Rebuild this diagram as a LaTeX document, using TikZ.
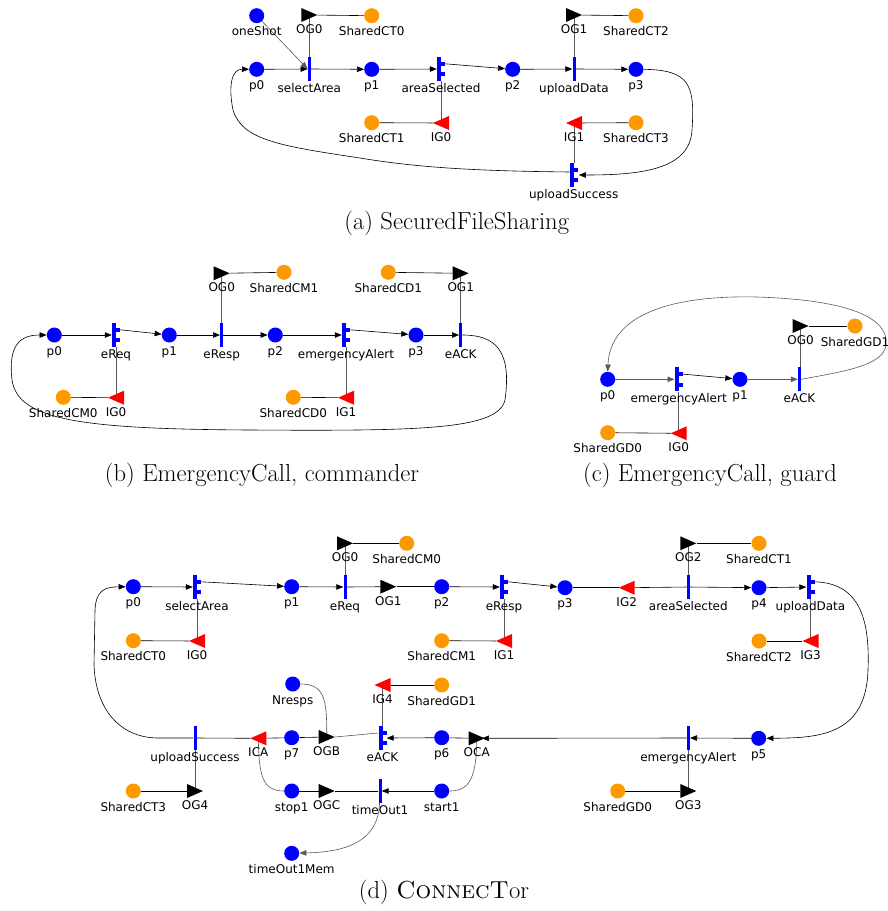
\documentclass[tikz,border=0pt]{standalone}
\usepackage{fontspec}
\newfontfamily\labfont{DejaVu Sans}
\usetikzlibrary{arrows.meta,shapes.geometric,calc,backgrounds}
\definecolor{pblue}{RGB}{0,0,255}
\definecolor{porange}{RGB}{255,153,0}
\definecolor{pred}{RGB}{255,0,0}
\definecolor{ggray}{RGB}{90,90,90}
\tikzset{
  pl/.style={circle, fill=pblue, minimum size=15pt, inner sep=0pt},
  sh/.style={pl, fill=porange},
  tr/.style={rectangle, fill=pblue, minimum width=3pt, minimum height=24pt, inner sep=0pt},
  sptr/.style={tr, minimum width=4pt},
  og/.style={rectangle, minimum width=16pt, minimum height=14pt, inner sep=0pt,
    path picture={\fill[black] (path picture bounding box.north west) -- (path picture bounding box.east) -- (path picture bounding box.south west) -- cycle;}},
  ig/.style={rectangle, minimum width=16pt, minimum height=14pt, inner sep=0pt,
    path picture={\fill[pred] (path picture bounding box.north east) -- (path picture bounding box.west) -- (path picture bounding box.south east) -- cycle;}},
  lab/.style={font=\labfont\fontsize{12}{14}\selectfont, anchor=base, inner sep=0pt},
  conn/.style={draw=black, line width=0.6pt},
  arr/.style={conn, -{Triangle[length=7pt,width=5.5pt]}},
  gconn/.style={draw=ggray, line width=0.6pt},
  garr/.style={gconn, -{Triangle[length=7pt,width=5.5pt]}},
  captext/.style={font=\fontsize{24.6}{29}\selectfont, anchor=base, inner sep=0pt},
}
\newcommand\mkPL[4]{\node[pl] (#1) at (#2,#3) {}; \node[lab] (#1-l) at ([yshift=-20pt]#1.center) {#4};}
\newcommand\mkSH[4]{\node[sh] (#1) at (#2,#3) {}; \node[lab] (#1-l) at ([yshift=-20pt]#1.center) {#4};}
\newcommand\mkTR[4]{\node[tr] (#1) at (#2,#3) {}; \node[lab] (#1-l) at ([yshift=-23.5pt]#1.center) {#4};}
\newcommand\mkSP[4]{\node[sptr] (#1) at (#2,#3) {}; \fill[pblue] ([yshift=-5pt]#1.north east) rectangle ++(4,4); \fill[pblue] ([yshift=5pt]#1.south east) rectangle ++(4,-4); \node[lab] (#1-l) at ([xshift=2pt,yshift=-23.5pt]#1.center) {#4};}
\newcommand\mkOG[4]{\node[og] (#1) at (#2,#3) {}; \node[lab] (#1-l) at ([yshift=-18.5pt]#1.center) {#4};}
\newcommand\mkIG[4]{\node[ig] (#1) at (#2,#3) {}; \node[lab] (#1-l) at ([yshift=-18.5pt]#1.center) {#4};}
\begin{document}
\begin{tikzpicture}[x=1pt,y=-1pt]
\useasboundingbox (0,0) rectangle (888,911);
% ---------------- (a)
\mkPL{a-oneShot}{256.7}{15.7}{oneShot}
\mkOG{a-OG0}{309.3}{15}{OG0}
\mkSH{a-SCT0}{371.7}{15.7}{SharedCT0}
\mkPL{a-p0}{256.7}{69.3}{p0}
\mkTR{a-selectArea}{309.3}{69}{selectArea}
\mkPL{a-p1}{371.7}{69.3}{p1}
\mkSP{a-areaSelected}{439}{69}{areaSelected}
\mkPL{a-p2}{512.7}{69.3}{p2}
\mkTR{a-uploadData}{574}{69}{uploadData}
\mkOG{a-OG1}{574}{15}{OG1}
\mkSH{a-SCT2}{636}{15.7}{SharedCT2}
\mkPL{a-p3}{636}{69.3}{p3}
\mkSH{a-SCT1}{371.7}{122.7}{SharedCT1}
\mkIG{a-IG0}{441}{123}{IG0}
\mkIG{a-IG1}{574}{123}{IG1}
\mkSH{a-SCT3}{636}{122.7}{SharedCT3}
\mkSP{a-uploadSuccess}{571.7}{175}{uploadSuccess}
% ---------------- (b)
\mkPL{b-p0}{54.3}{335}{p0}
\mkSP{b-eReq}{114}{335}{eReq}
\mkIG{b-IG0}{116}{397.7}{IG0}
\mkSH{b-SCM0}{63.3}{397.3}{SharedCM0}
\mkPL{b-p1}{169.3}{335}{p1}
\mkTR{b-eResp}{221.7}{335}{eResp}
\mkOG{b-OG0}{221.7}{273.3}{OG0}
\mkSH{b-SCM1}{284}{272.3}{SharedCM1}
\mkPL{b-p2}{275.3}{335}{p2}
\mkSP{b-emergencyAlert}{344}{335}{emergencyAlert}
\mkIG{b-IG1}{346}{397.7}{IG1}
\mkSH{b-SCD0}{293.3}{397.3}{SharedCD0}
\mkSH{b-SCD1}{388.3}{272.3}{SharedCD1}
\mkOG{b-OG1}{460.7}{273.3}{OG1}
\mkPL{b-p3}{416}{335}{p3}
\mkTR{b-eACK}{460.7}{335}{eACK}
% ---------------- (c)
\mkPL{c-p0}{607.7}{379.3}{p0}
\mkSP{c-emergencyAlert}{676.7}{379.3}{emergencyAlert}
\mkIG{c-IG0}{678.7}{433.3}{IG0}
\mkSH{c-SGD0}{607.7}{432.7}{SharedGD0}
\mkPL{c-p1}{740}{379.3}{p1}
\mkTR{c-eACK}{799.5}{379.3}{eACK}
\mkOG{c-OG0}{800.5}{326}{OG0}
\mkSH{c-SGD1}{855}{326}{SharedGD1}
% ---------------- (d)
\mkPL{d-p0}{133.3}{586.7}{p0}
\mkSP{d-selectArea}{195}{587}{selectArea}
\mkIG{d-IG0}{197}{641}{IG0}
\mkSH{d-SCT0}{133.3}{640.7}{SharedCT0}
\mkPL{d-p1}{291.7}{586.7}{p1}
\mkTR{d-eReq}{345}{587}{eReq}
\mkOG{d-OG0}{345}{543.3}{OG0}
\mkSH{d-SCM0}{406.7}{543.3}{SharedCM0}
\mkOG{d-OG1}{388.3}{586.7}{OG1}
\mkPL{d-p2}{441.7}{586.7}{p2}
\mkSH{d-SCM1}{441.7}{640.7}{SharedCM1}
\mkSP{d-eResp}{502}{587}{eResp}
\mkIG{d-IG1}{504}{641}{IG1}
\mkPL{d-p3}{565}{587.7}{p3}
\mkIG{d-IG2}{626.7}{587.7}{IG2}
\mkTR{d-areaSelected}{688.3}{587}{areaSelected}
\mkOG{d-OG2}{688.3}{543.3}{OG2}
\mkSH{d-SCT1}{759}{543.3}{SharedCT1}
\mkPL{d-p4}{759}{587.7}{p4}
\mkSP{d-uploadData}{808.5}{587}{uploadData}
\mkIG{d-IG3}{810.5}{641}{IG3}
\mkSH{d-SCT2}{759}{641}{SharedCT2}
\mkTR{d-uploadSuccess}{195}{738}{uploadSuccess}
\mkOG{d-OG4}{195}{791}{OG4}
\mkSH{d-SCT3}{133.3}{791}{SharedCT3}
\mkIG{d-ICA}{258.3}{738.3}{ICA}
\mkPL{d-p7}{291.7}{737.7}{p7}
\mkOG{d-OGB}{326.7}{737}{OGB}
\mkPL{d-Nresps}{292.7}{684}{Nresps}
\mkSP{d-eACK}{380.5}{738}{eACK}
\mkIG{d-IG4}{382.5}{685}{IG4}
\mkSH{d-SGD1}{441.7}{685}{SharedGD1}
\mkPL{d-p6}{441.7}{737.7}{p6}
\mkOG{d-OCA}{476.7}{738.3}{OCA}
\mkTR{d-emergencyAlert}{688.3}{738}{emergencyAlert}
\mkPL{d-p5}{758.7}{738.3}{p5}
\mkOG{d-OG3}{688.3}{791}{OG3}
\mkSH{d-SGD0}{617.7}{791}{SharedGD0}
\mkPL{d-stop1}{291.7}{791}{stop1}
\mkOG{d-OGC}{326.7}{791}{OGC}
\mkTR{d-timeOut1}{380}{791}{timeOut1}
\mkPL{d-start1}{441.7}{791}{start1}
\mkPL{d-timeOut1Mem}{291.7}{853.3}{timeOut1Mem}
% ---------------- captions
\node[captext] (capa) at (456.7,229.5) {(a) SecuredFileSharing};
\node[captext] (capb) at (262,481) {(b) EmergencyCall, commander};
\node[captext] (capc) at (710,481) {(c) EmergencyCall, guard};
\node[captext] (capd) at (444,898) {(d) \textsc{ConnecT}or};
% ---------------- connectors
\begin{scope}[on background layer]
% (a)
\draw[conn] (a-SCT0) -- (a-OG0);
\draw[gconn] (a-OG0.center) -- (a-OG0 |- a-selectArea.north);
\draw[garr] (a-oneShot) -- (a-selectArea.west);
\draw[arr] (a-p0) -- (a-selectArea);
\draw[arr] (a-selectArea) -- (a-p1);
\draw[arr] (a-p1) -- (a-areaSelected);
\draw[arr] ([xshift=4pt,yshift=-7pt]a-areaSelected.north east) -- (a-p2);
\draw[conn] (a-SCT1) -- (a-IG0);
\draw[gconn] (a-IG0.center) -- (a-IG0 |- a-areaSelected.south);
\draw[arr] (a-p2) -- (a-uploadData);
\draw[arr] (a-uploadData) -- (a-p3);
\draw[conn] (a-SCT2) -- (a-OG1);
\draw[gconn] (a-OG1.center) -- (a-OG1 |- a-uploadData.north);
\draw[conn] (a-SCT3) -- (a-IG1);
\draw[gconn] (a-IG1.center) -- (a-IG1 |- a-uploadSuccess.north);
\draw[arr] (a-p3.east) .. controls (690,70) and (695,85) .. (692,130) .. controls (690,170) and (640,175) .. ([xshift=5pt]a-uploadSuccess.east);
\draw[arr] ([yshift=3pt]a-uploadSuccess.west) .. controls (480,171) and (420,168) .. (360,158) .. controls (280,146) and (242,140) .. (233,110) .. controls (228,85) and (232,69) .. (a-p0.west);
% (b)
\draw[arr] (b-p0) -- (b-eReq);
\draw[arr] ([xshift=4pt,yshift=-7pt]b-eReq.north east) -- (b-p1);
\draw[conn] (b-SCM0) -- (b-IG0);
\draw[gconn] (b-IG0.center) -- (b-IG0 |- b-eReq.south);
\draw[arr] (b-p1) -- (b-eResp);
\draw[conn] (b-SCM1) -- (b-OG0);
\draw[gconn] (b-OG0.center) -- (b-OG0 |- b-eResp.north);
\draw[arr] (b-eResp) -- (b-p2);
\draw[arr] (b-p2) -- (b-emergencyAlert);
\draw[arr] ([xshift=4pt,yshift=-7pt]b-emergencyAlert.north east) -- (b-p3);
\draw[conn] (b-SCD0) -- (b-IG1);
\draw[gconn] (b-IG1.center) -- (b-IG1 |- b-emergencyAlert.south);
\draw[conn] (b-SCD1) -- (b-OG1);
\draw[gconn] (b-OG1.center) -- (b-OG1 |- b-eACK.north);
\draw[arr] (b-p3) -- (b-eACK);
\draw[arr] (b-eACK.east) .. controls (495,335) and (512,350) .. (505,400) .. controls (498,430) and (420,431) .. (250,430) .. controls (80,429) and (18,420) .. (12,380) .. controls (8,345) and (20,335) .. (b-p0.west);
% (c)
\draw[garr] (c-p0) -- (c-emergencyAlert);
\draw[arr] ([xshift=4pt,yshift=-7pt]c-emergencyAlert.north east) -- (c-p1);
\draw[garr] (c-p1) -- (c-eACK);
\draw[conn] (c-SGD0) -- (c-IG0);
\draw[gconn] (c-IG0.center) -- (c-IG0 |- c-emergencyAlert.south);
\draw[conn] (c-SGD1) -- (c-OG0);
\draw[gconn] (c-OG0.center) -- (c-OG0 |- c-eACK.north);
\draw[garr] (c-eACK.east) .. controls (840,372) and (884,366) .. (886,345) .. controls (889,318) and (850,300) .. (757,297) .. controls (670,295) and (610,315) .. (c-p0.north);
% (d)
\draw[arr] (d-p0) -- (d-selectArea);
\draw[arr] ([xshift=4pt,yshift=-7pt]d-selectArea.north east) -- (d-p1);
\draw[conn] (d-SCT0) -- (d-IG0);
\draw[gconn] (d-IG0.center) -- (d-IG0 |- d-selectArea.south);
\draw[arr] (d-p1) -- (d-eReq);
\draw[conn] (d-SCM0) -- (d-OG0);
\draw[gconn] (d-OG0.center) -- (d-OG0 |- d-eReq.north);
\draw[conn] (d-eReq) -- (d-OG1);
\draw[conn] (d-OG1) -- (d-p2);
\draw[arr] (d-p2) -- (d-eResp);
\draw[conn] (d-SCM1) -- (d-IG1);
\draw[gconn] (d-IG1.center) -- (d-IG1 |- d-eResp.south);
\draw[arr] ([xshift=4pt,yshift=-7pt]d-eResp.north east) -- (d-p3);
\draw[conn] (d-p3) -- (d-IG2);
\draw[conn] (d-IG2) -- (d-areaSelected);
\draw[conn] (d-SCT1) -- (d-OG2);
\draw[gconn] (d-OG2.center) -- (d-OG2 |- d-areaSelected.north);
\draw[arr] (d-areaSelected) -- (d-p4);
\draw[arr] (d-p4) -- (d-uploadData);
\draw[conn] (d-SCT2) -- (d-IG3);
\draw[gconn] (d-IG3.center) -- (d-IG3 |- d-uploadData.south);
\draw[arr] ([xshift=4pt,yshift=-7pt]d-uploadData.north east) .. controls (860,583) and (870,620) .. (868,670) .. controls (866,735) and (820,738) .. (d-p5.east);
\draw[arr] (d-p5) -- (d-emergencyAlert);
\draw[arr] (d-emergencyAlert) -- ([xshift=-3pt]d-OCA.east);
\draw[conn] (d-SGD0) -- (d-OG3);
\draw[gconn] (d-OG3.center) -- (d-OG3 |- d-emergencyAlert.south);
\draw[conn] (d-OCA) -- (d-p6);
\draw[arr] (d-p6) -- ([xshift=4pt]d-eACK.east);
\draw[conn] (d-SGD1) -- (d-IG4);
\draw[gconn] (d-IG4.center) -- (d-IG4 |- d-eACK.north);
\draw[gconn] ([yshift=5pt]d-eACK.west) -- (d-OGB.east);
\draw[conn] (d-OGB) -- (d-p7);
\draw[conn] (d-p7) -- (d-ICA);
\draw[conn] (d-ICA) -- (d-uploadSuccess);
\draw[arr] (d-uploadSuccess) -- (158,738) .. controls (125,738) and (96,715) .. (94,665) -- (95,610) .. controls (96,590) and (105,587) .. (d-p0.west);
\draw[conn] (d-SCT3) -- (d-OG4);
\draw[gconn] (d-OG4.center) -- (d-OG4 |- d-uploadSuccess.south);
\draw[gconn] (d-Nresps) .. controls (325,684) and (327,700) .. (d-OGB.center);
\draw[gconn] (d-OCA.center) .. controls (477,785) and (465,791) .. (d-start1);
\draw[arr] (d-start1) -- (d-timeOut1);
\draw[conn] (d-timeOut1) -- (d-OGC);
\draw[conn] (d-OGC) -- (d-stop1);
\draw[gconn] (d-stop1) .. controls (262,791) and (259,775) .. (d-ICA.center);
\draw[garr] (d-timeOut1) .. controls (378,845) and (340,852) .. (d-timeOut1Mem);
\end{scope}
\end{tikzpicture}
\end{document}
